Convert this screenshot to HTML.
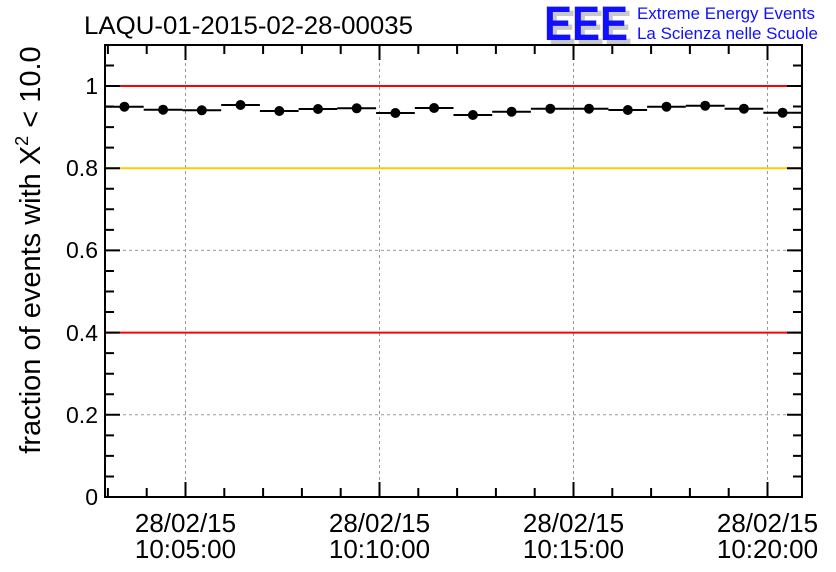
<!DOCTYPE html>
<html><head><meta charset="utf-8"><style>
html,body{margin:0;padding:0;background:#fff;}
svg{display:block;font-family:"Liberation Sans",sans-serif;}
</style></head><body>
<svg width="836" height="572" viewBox="0 0 836 572" xmlns="http://www.w3.org/2000/svg">
<rect width="836" height="572" fill="#fff"/>
<text x="84" y="34" font-size="25" fill="#000" textLength="329" lengthAdjust="spacingAndGlyphs">LAQU-01-2015-02-28-00035</text>
<g font-size="48" font-weight="bold">
<text x="548" y="44" fill="#c8c8c8" textLength="84" lengthAdjust="spacingAndGlyphs">EEE</text>
<text x="544" y="40" fill="#1010ff" textLength="84" lengthAdjust="spacingAndGlyphs">EEE</text>
</g>
<text x="637" y="19" font-size="17" fill="#1010ff" textLength="178" lengthAdjust="spacingAndGlyphs">Extreme Energy Events</text>
<text x="637" y="39" font-size="17" fill="#1010ff" textLength="181" lengthAdjust="spacingAndGlyphs">La Scienza nelle Scuole</text>
<g stroke="#999" stroke-width="1" stroke-dasharray="3,3">
<line x1="185.5" y1="45" x2="185.5" y2="497"/>
<line x1="379.5" y1="45" x2="379.5" y2="497"/>
<line x1="573.5" y1="45" x2="573.5" y2="497"/>
<line x1="767.5" y1="45" x2="767.5" y2="497"/>
<line x1="105" y1="414.8" x2="802" y2="414.8"/>
<line x1="105" y1="250.4" x2="802" y2="250.4"/>
</g>
<line x1="105" y1="86" x2="802" y2="86" stroke="#ff0000" stroke-width="2"/>
<line x1="105" y1="332.6" x2="802" y2="332.6" stroke="#ff0000" stroke-width="2"/>
<line x1="105" y1="168.2" x2="802" y2="168.2" stroke="#ffcc00" stroke-width="2"/>
<g stroke="#000" stroke-width="2">
<line x1="105" y1="106.7" x2="143.7" y2="106.7"/>
<line x1="143.7" y1="109.7" x2="182.4" y2="109.7"/>
<line x1="182.4" y1="110.3" x2="221.2" y2="110.3"/>
<line x1="221.2" y1="105" x2="259.9" y2="105"/>
<line x1="259.9" y1="111" x2="298.6" y2="111"/>
<line x1="298.6" y1="109" x2="337.3" y2="109"/>
<line x1="337.3" y1="108.3" x2="376.1" y2="108.3"/>
<line x1="376.1" y1="113" x2="414.8" y2="113"/>
<line x1="414.8" y1="108" x2="453.5" y2="108"/>
<line x1="453.5" y1="115" x2="492.2" y2="115"/>
<line x1="492.2" y1="111.7" x2="530.9" y2="111.7"/>
<line x1="530.9" y1="108.7" x2="569.7" y2="108.7"/>
<line x1="569.7" y1="108.7" x2="608.4" y2="108.7"/>
<line x1="608.4" y1="110" x2="647.1" y2="110"/>
<line x1="647.1" y1="106.7" x2="685.8" y2="106.7"/>
<line x1="685.8" y1="105.7" x2="724.6" y2="105.7"/>
<line x1="724.6" y1="108.7" x2="763.3" y2="108.7"/>
<line x1="763.3" y1="112.7" x2="802" y2="112.7"/>
</g>
<g fill="#000">
<circle cx="124.4" cy="106.7" r="5"/>
<circle cx="163.1" cy="109.7" r="5"/>
<circle cx="201.8" cy="110.3" r="5"/>
<circle cx="240.5" cy="105" r="5"/>
<circle cx="279.3" cy="111" r="5"/>
<circle cx="318.0" cy="109" r="5"/>
<circle cx="356.7" cy="108.3" r="5"/>
<circle cx="395.4" cy="113" r="5"/>
<circle cx="434.1" cy="108" r="5"/>
<circle cx="472.9" cy="115" r="5"/>
<circle cx="511.6" cy="111.7" r="5"/>
<circle cx="550.3" cy="108.7" r="5"/>
<circle cx="589.0" cy="108.7" r="5"/>
<circle cx="627.8" cy="110" r="5"/>
<circle cx="666.5" cy="106.7" r="5"/>
<circle cx="705.2" cy="105.7" r="5"/>
<circle cx="743.9" cy="108.7" r="5"/>
<circle cx="782.6" cy="112.7" r="5"/>
</g>
<rect x="105" y="45" width="697" height="452" fill="none" stroke="#000" stroke-width="2"/>
<g stroke="#000" stroke-width="2" fill="none">
<path d="M105 497h15M105 476.45h9M105 455.9h9M105 435.35h9M105 414.8h15M105 394.25h9M105 373.7h9M105 353.15h9M105 332.6h15M105 312.05h9M105 291.5h9M105 270.95h9M105 250.4h15M105 229.85h9M105 209.3h9M105 188.75h9M105 168.2h15M105 147.65h9M105 127.1h9M105 106.55h9M105 86h15M105 65.45h9"/>
<path d="M802 497h-15M802 476.45h-9M802 455.9h-9M802 435.35h-9M802 414.8h-15M802 394.25h-9M802 373.7h-9M802 353.15h-9M802 332.6h-15M802 312.05h-9M802 291.5h-9M802 270.95h-9M802 250.4h-15M802 229.85h-9M802 209.3h-9M802 188.75h-9M802 168.2h-15M802 147.65h-9M802 127.1h-9M802 106.55h-9M802 86h-15M802 65.45h-9"/>
<path d="M107.9 497v-9M146.7 497v-9M185.5 497v-15M224.3 497v-9M263.1 497v-9M301.9 497v-9M340.7 497v-9M379.5 497v-15M418.3 497v-9M457.1 497v-9M495.9 497v-9M534.7 497v-9M573.5 497v-15M612.3 497v-9M651.1 497v-9M689.9 497v-9M728.7 497v-9M767.5 497v-15"/>
<path d="M107.9 45v9M146.7 45v9M185.5 45v15M224.3 45v9M263.1 45v9M301.9 45v9M340.7 45v9M379.5 45v15M418.3 45v9M457.1 45v9M495.9 45v9M534.7 45v9M573.5 45v15M612.3 45v9M651.1 45v9M689.9 45v9M728.7 45v9M767.5 45v15"/>
</g>
<g font-size="23" text-anchor="end">
<text x="98" y="505">0</text>
<text x="98" y="423">0.2</text>
<text x="98" y="341">0.4</text>
<text x="98" y="258">0.6</text>
<text x="98" y="176">0.8</text>
<text x="98" y="94">1</text>
</g>
<g font-size="26" text-anchor="middle">
<text x="185.5" y="532">28/02/15</text><text x="185.5" y="558">10:05:00</text>
<text x="379.5" y="532">28/02/15</text><text x="379.5" y="558">10:10:00</text>
<text x="573.5" y="532">28/02/15</text><text x="573.5" y="558">10:15:00</text>
<text x="767.5" y="532">28/02/15</text><text x="767.5" y="558">10:20:00</text>
</g>
<text transform="translate(40,250) rotate(-90)" font-size="29" text-anchor="middle">fraction of events with X<tspan dy="-12" font-size="18">2</tspan><tspan dy="12"> &lt; 10.0</tspan></text>
</svg>
</body></html>
